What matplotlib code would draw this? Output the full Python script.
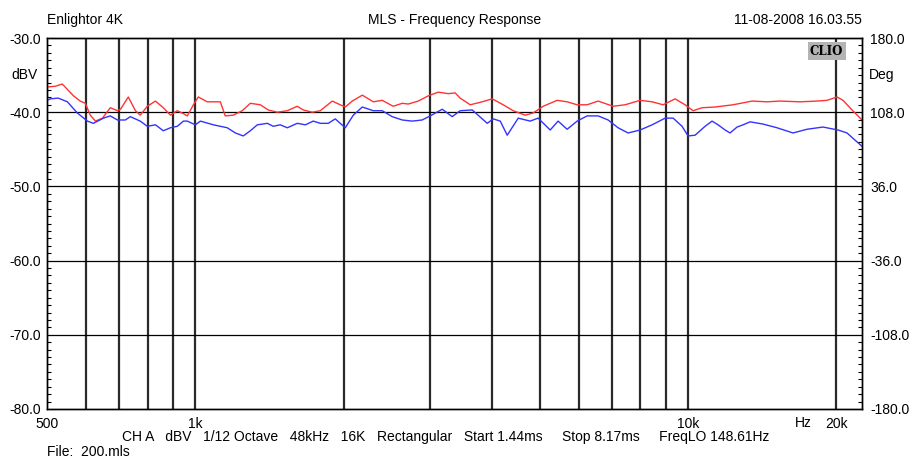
import numpy as np
import matplotlib
matplotlib.use('Agg')
import matplotlib.pyplot as plt
from matplotlib.ticker import MultipleLocator, FixedLocator

plt.rcParams['font.family'] = ['Liberation Sans', 'DejaVu Sans']

# Magnitude curves (Hz, dBV)
red_freq = [500, 520, 537, 566, 584, 598, 612, 627, 648, 672, 695, 705, 731, 756, 773, 799,
            830, 861, 890, 919, 946, 963, 991, 1014, 1057, 1124, 1150, 1194, 1245, 1293, 1355,
            1406, 1467, 1537, 1610, 1656, 1727, 1793, 1896, 1968, 2015, 2082, 2182, 2297, 2395,
            2521, 2630, 2704, 2834, 2969, 3111, 3261, 3368, 3447, 3613, 3821, 4004, 4215, 4416,
            4671, 4849, 5080, 5424, 5682, 5955, 6239, 6568, 7045, 7451, 7991, 8453, 8899, 9410,
            9860, 10235, 10676, 11341, 12340, 13488, 14461, 15369, 16873, 18268, 19143, 20060,
            20630, 21514, 22540]
red_db = [-36.6, -36.5, -36.2, -37.8, -38.5, -38.8, -40.4, -41.2, -40.8, -39.4, -39.8, -39.6,
          -37.95, -39.8, -40.4, -39.2, -38.5, -39.4, -40.4, -39.8, -40.2, -40.5, -39.0, -37.95,
          -38.6, -38.6, -40.5, -40.4, -39.8, -38.8, -39.0, -39.7, -40.0, -39.8, -39.2, -39.7,
          -40.0, -39.8, -38.5, -39.0, -39.3, -38.5, -37.7, -38.6, -38.4, -39.2, -38.8, -38.9,
          -38.5, -37.8, -37.3, -37.5, -37.4, -38.1, -39.0, -38.6, -38.2, -39.0, -39.8, -40.4,
          -40.1, -39.2, -38.4, -38.6, -39.0, -39.0, -38.5, -39.2, -39.0, -38.4, -38.6, -39.0,
          -38.2, -39.0, -39.8, -39.4, -39.3, -39.0, -38.5, -38.6, -38.5, -38.6, -38.5, -38.4,
          -37.95, -38.4, -39.7, -41.05]

blue_freq = [500, 508, 527, 550, 576, 604, 621, 651, 672, 695, 721, 738, 773, 799, 830, 861,
             890, 919, 946, 963, 1000, 1024, 1088, 1161, 1206, 1251, 1293, 1336, 1400, 1439,
             1487, 1537, 1610, 1672, 1735, 1793, 1861, 1923, 2015, 2092, 2182, 2297, 2395, 2509,
             2630, 2755, 2886, 2997, 3170, 3321, 3447, 3647, 3912, 4023, 4157, 4295, 4522, 4781,
             4962, 5250, 5448, 5682, 5955, 6239, 6568, 6882, 7211, 7556, 7991, 8453, 8981, 9325,
             9723, 10000, 10332, 10827, 11186, 11505, 11888, 12168, 12572, 12929, 13359, 14195,
             15156, 16331, 17430, 18785, 20155, 21016, 22540]
blue_db = [-38.4, -38.2, -38.1, -38.6, -40.1, -41.2, -41.5, -40.8, -40.5, -41.05, -41.05, -40.6,
           -41.2, -41.9, -41.7, -42.5, -42.1, -41.9, -41.2, -41.2, -41.7, -41.2, -41.7, -42.1,
           -42.8, -43.2, -42.5, -41.7, -41.5, -41.9, -41.7, -42.1, -41.5, -41.7, -41.2, -41.5,
           -41.5, -40.9, -42.1, -40.4, -39.3, -39.8, -39.8, -40.6, -41.05, -41.2, -41.05, -40.5,
           -39.6, -40.6, -39.8, -39.7, -41.5, -40.9, -41.2, -43.1, -40.8, -41.2, -40.8, -42.4,
           -41.2, -42.3, -41.2, -40.5, -40.5, -41.05, -42.1, -42.8, -42.4, -41.7, -40.8, -40.8,
           -41.9, -43.2, -43.1, -41.9, -41.2, -41.7, -42.4, -42.8, -42.0, -41.7, -41.3, -41.6,
           -42.1, -42.8, -42.3, -42.0, -42.4, -42.8, -44.6]

grid_freq = [600, 700, 800, 900, 1000, 2000, 3000, 4000, 5000, 6000, 7000, 8000, 9000, 10000, 20000]
x_labels = {500: '500', 1000: '1k', 10000: '10k', 20000: '20k'}
y_ticks = [-30, -40, -50, -60, -70, -80]
deg_ticks = [180, 108, 36, -36, -108, -180]

fs = 10

fig = plt.figure(figsize=(9.09, 4.58), dpi=100)
ax = fig.add_axes([47/909, 1-409/458, (862-47)/909, (409-38)/458])

ax.set_xscale('log')
ax.set_xlim(500, 22540)
ax.set_ylim(-80, -30)

# vertical grid
for f in grid_freq:
    ax.axvline(f, color='#2a2a2a', lw=1.6, zorder=1)
for v in y_ticks[1:-1]:
    ax.axhline(v, color='black', lw=0.9, zorder=1)

ax.plot(red_freq, red_db, color='#ff3333', lw=1.0, zorder=3)
ax.plot(blue_freq, blue_db, color='#3333ff', lw=1.0, zorder=3)

xt = [500] + grid_freq
ax.xaxis.set_major_locator(FixedLocator(xt))
ax.xaxis.set_minor_locator(FixedLocator([]))
ax.set_xticklabels([x_labels.get(f, '') for f in xt])
ax.tick_params(axis='x', length=0, pad=6, labelsize=fs)

ax.set_yticks(y_ticks)
ax.set_yticklabels(['%.1f' % v for v in y_ticks])
ax.yaxis.set_minor_locator(MultipleLocator(1))
ax.tick_params(axis='y', which='major', direction='in', length=0, pad=4, labelsize=fs)
ax.tick_params(axis='y', which='minor', direction='in', length=3, width=0.8)

ax2 = ax.twinx()
ax2.set_ylim(-180, 180)
ax2.set_yticks(deg_ticks)
ax2.set_yticklabels(['%.1f' % v for v in deg_ticks])
ax2.yaxis.set_minor_locator(MultipleLocator(7.2))
ax2.tick_params(axis='y', which='major', direction='in', length=0, pad=6, labelsize=fs)
ax2.tick_params(axis='y', which='minor', direction='in', length=3, width=0.8)

for a in (ax, ax2):
    for s in a.spines.values():
        s.set_linewidth(1.0)

ax.text(-0.012, -35, 'dBV', transform=ax.get_yaxis_transform(), ha='right', va='center', fontsize=fs)
ax2.text(1.008, 144, 'Deg', transform=ax2.get_yaxis_transform(), ha='left', va='center', fontsize=fs)
ax.text(17100, -0.02, 'Hz', transform=ax.get_xaxis_transform(), ha='center', va='top', fontsize=fs)

ax.text(0.977, 0.982, 'CLIO', transform=ax.transAxes, ha='right', va='top', fontsize=8.5,
        family='DejaVu Serif', weight='bold',
        bbox=dict(boxstyle='square,pad=0.2', facecolor='#b4b4b4', edgecolor='none'), zorder=5)

fig.text(47/909, 1-20/458, 'Enlightor 4K', ha='left', va='center', fontsize=fs)
fig.text(455/909, 1-20/458, 'MLS - Frequency Response', ha='center', va='center', fontsize=fs)
fig.text(862/909, 1-20/458, '11-08-2008 16.03.55', ha='right', va='center', fontsize=fs)
fig.text(122/909, 1-437/458,
         'CH A   dBV   1/12 Octave   48kHz   16K   Rectangular   Start 1.44ms     Stop 8.17ms     FreqLO 148.61Hz',
         ha='left', va='center', fontsize=fs)
fig.text(47/909, 1-452/458, 'File:  200.mls', ha='left', va='center', fontsize=fs)

fig.savefig('out.png', dpi=100, facecolor='white')
